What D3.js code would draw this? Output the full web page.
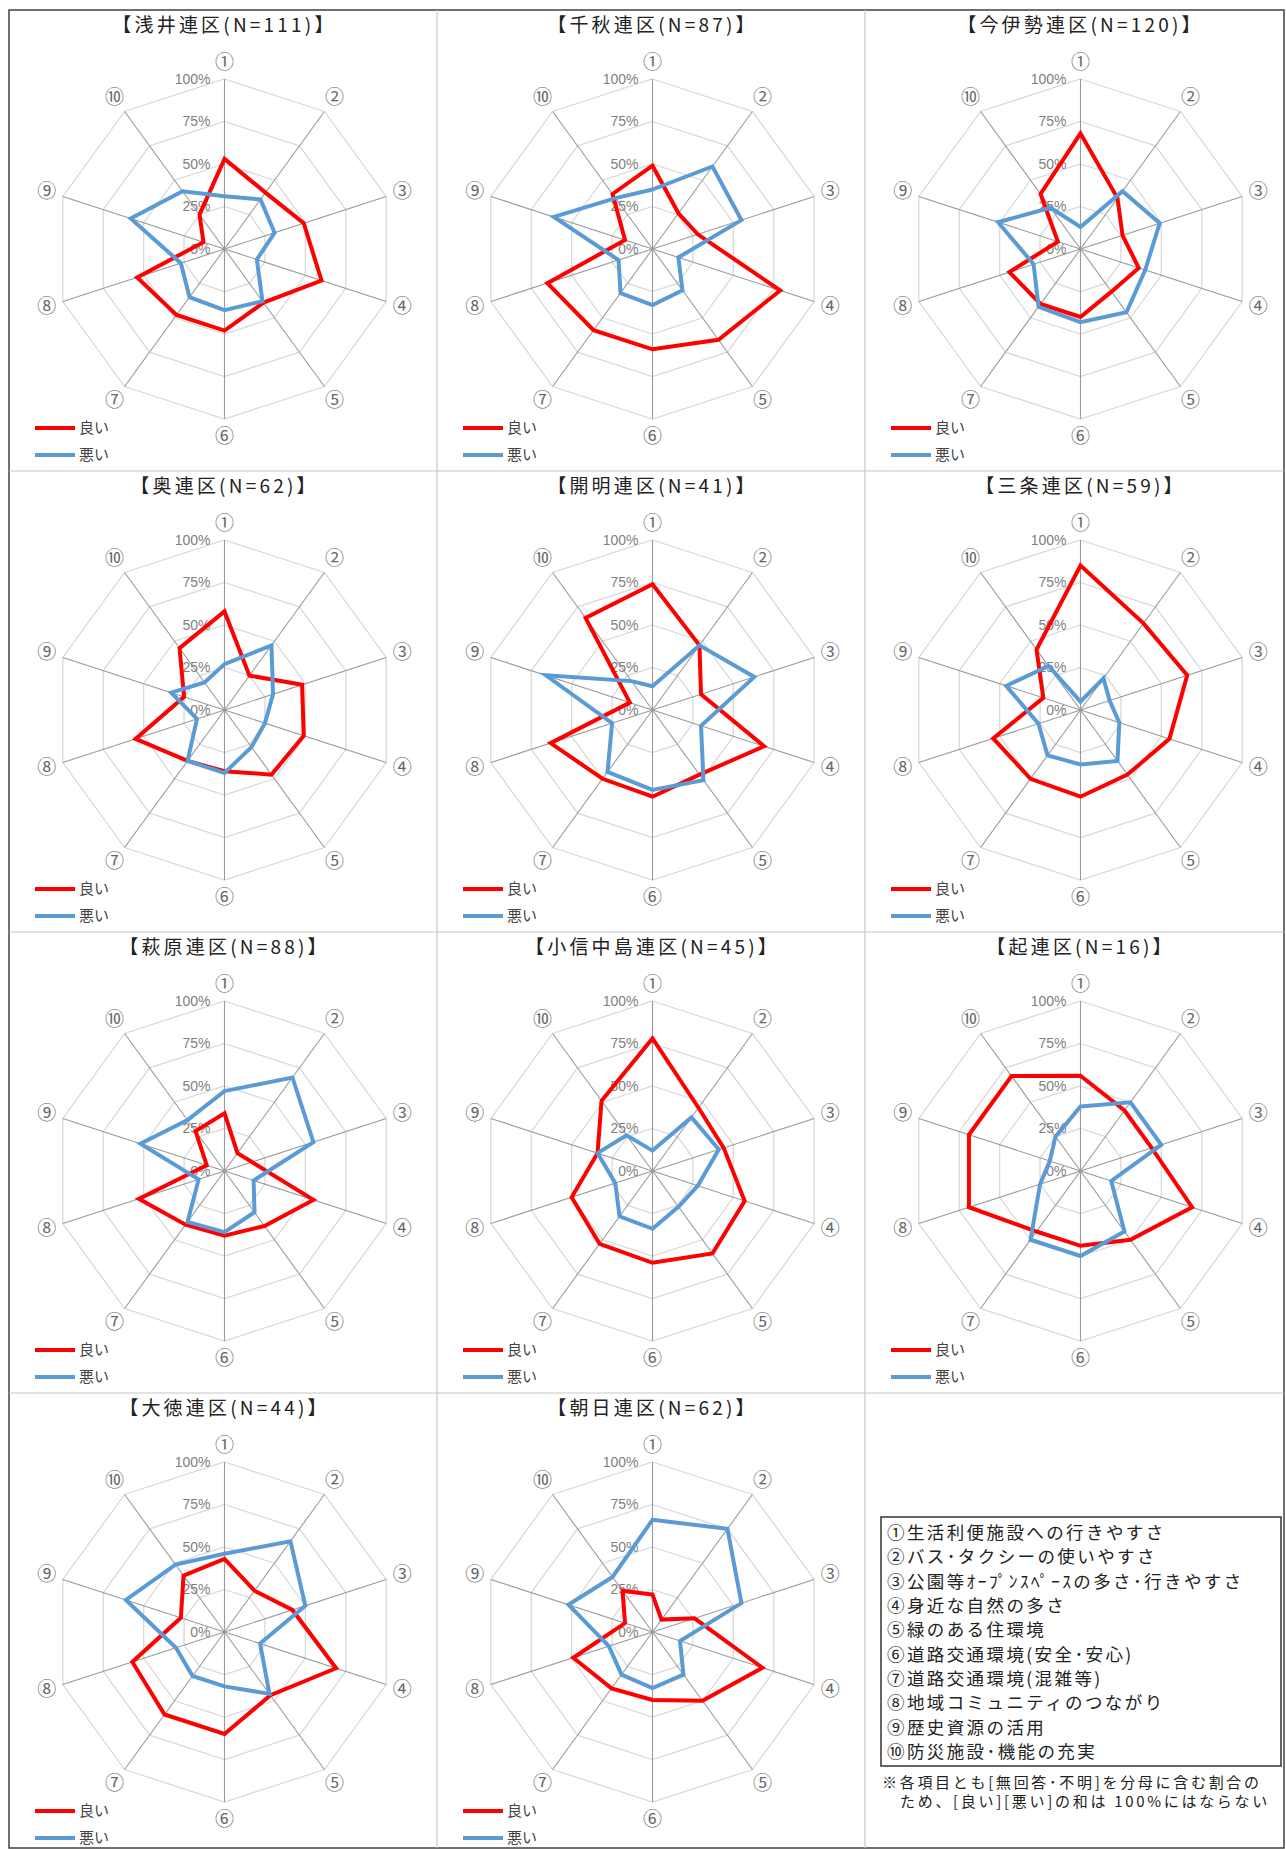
<!DOCTYPE html>
<html lang="ja">
<head>
<meta charset="UTF-8">
<title>連区別 良い・悪い レーダーチャート</title>
<style>
  body { margin: 0; background: #fff; }
  svg { display: block; font-family: "Noto Sans CJK JP", sans-serif; }
</style>
</head>
<body>
<script src="https://cdn.jsdelivr.net/npm/d3@7"></script>
<script>
// ---- data ----
var districts = ["浅井連区", "千秋連区", "今伊勢連区", "奥連区", "開明連区", "三条連区",
    "萩原連区", "小信中島連区", "起連区", "大徳連区", "朝日連区"];
var sampleN = [111, 87, 120, 62, 41, 59, 88, 45, 16, 44, 62];
var axisLabels = ["①", "②", "③", "④", "⑤", "⑥", "⑦", "⑧", "⑨", "⑩"];
var tickValues = [0, 0.25, 0.5, 0.75, 1];
var tickLabels = ["0%", "25%", "50%", "75%", "100%"];
var seriesNames = ["良い", "悪い"];

// 良い
var goodValues = [
    [0.53, 0.41, 0.49, 0.60, 0.39, 0.48, 0.48, 0.54, 0.13, 0.25],
    [0.49, 0.26, 0.28, 0.79, 0.66, 0.59, 0.59, 0.65, 0.17, 0.40],
    [0.68, 0.37, 0.26, 0.36, 0.31, 0.40, 0.40, 0.44, 0.14, 0.40],
    [0.58, 0.25, 0.48, 0.49, 0.47, 0.36, 0.37, 0.55, 0.25, 0.45],
    [0.74, 0.47, 0.30, 0.69, 0.47, 0.51, 0.50, 0.63, 0.14, 0.67],
    [0.85, 0.63, 0.66, 0.55, 0.47, 0.51, 0.50, 0.54, 0.23, 0.44],
    [0.34, 0.13, 0.17, 0.55, 0.40, 0.38, 0.39, 0.53, 0.11, 0.29],
    [0.78, 0.46, 0.44, 0.57, 0.60, 0.54, 0.53, 0.50, 0.34, 0.51],
    [0.56, 0.44, 0.44, 0.69, 0.50, 0.44, 0.44, 0.69, 0.69, 0.69],
    [0.43, 0.30, 0.42, 0.69, 0.46, 0.60, 0.60, 0.57, 0.27, 0.41],
    [0.22, 0.09, 0.26, 0.68, 0.50, 0.40, 0.41, 0.49, 0.17, 0.30]
];
// 悪い
var badValues = [
    [0.31, 0.36, 0.31, 0.20, 0.38, 0.36, 0.35, 0.27, 0.58, 0.42],
    [0.35, 0.60, 0.55, 0.16, 0.30, 0.33, 0.32, 0.21, 0.61, 0.37],
    [0.13, 0.42, 0.49, 0.40, 0.46, 0.43, 0.42, 0.29, 0.51, 0.30],
    [0.27, 0.47, 0.30, 0.25, 0.27, 0.37, 0.37, 0.17, 0.33, 0.20],
    [0.14, 0.47, 0.63, 0.30, 0.51, 0.47, 0.45, 0.25, 0.66, 0.21],
    [0.05, 0.23, 0.18, 0.24, 0.37, 0.32, 0.33, 0.26, 0.46, 0.32],
    [0.47, 0.68, 0.55, 0.18, 0.30, 0.36, 0.37, 0.16, 0.52, 0.37],
    [0.12, 0.39, 0.41, 0.28, 0.26, 0.34, 0.33, 0.23, 0.34, 0.26],
    [0.38, 0.50, 0.50, 0.19, 0.44, 0.50, 0.50, 0.25, 0.19, 0.25],
    [0.46, 0.66, 0.50, 0.22, 0.45, 0.32, 0.32, 0.30, 0.61, 0.49],
    [0.66, 0.75, 0.55, 0.17, 0.31, 0.33, 0.31, 0.27, 0.52, 0.40]
];

var itemNames = [
    "①生活利便施設への行きやすさ",
    "②バス･タクシーの使いやすさ",
    "③公園等ｵｰﾌﾟﾝｽﾍﾟｰｽの多さ･行きやすさ",
    "④身近な自然の多さ",
    "⑤緑のある住環境",
    "⑥道路交通環境(安全･安心)",
    "⑦道路交通環境(混雑等)",
    "⑧地域コミュニティのつながり",
    "⑨歴史資源の活用",
    "⑩防災施設･機能の充実"
];
var noteLines = [
    "※各項目とも[無回答･不明]を分母に含む割合の",
    "ため、[良い][悪い]の和は 100%にはならない"
];

// ---- layout ----
var width = 1286, height = 1849;
var frame = {left: 9, top: 10, right: 1284, bottom: 1848};
var cellW = 428, cellH = 461;
var cx = 215.5, cy = 239;
var colors = ["#ff0000", "#5b9bd5"];

var svg = d3.select("body").append("svg")
    .attr("width", width)
    .attr("height", height);

// outer frame and cell dividers
svg.append("rect")
    .attr("x", frame.left).attr("y", frame.top)
    .attr("width", frame.right - frame.left)
    .attr("height", frame.bottom - frame.top)
    .style("fill", "none").style("stroke", "#404040").style("stroke-width", 1.5);

[1, 2].forEach(function (c) {
    svg.append("line")
        .attr("x1", frame.left + c * cellW).attr("x2", frame.left + c * cellW)
        .attr("y1", frame.top).attr("y2", frame.bottom)
        .style("stroke", "#c8c8c8").style("stroke-width", 1.2);
});
[1, 2, 3].forEach(function (r) {
    svg.append("line")
        .attr("x1", frame.left).attr("x2", frame.right)
        .attr("y1", frame.top + r * cellH).attr("y2", frame.top + r * cellH)
        .style("stroke", "#c8c8c8").style("stroke-width", 1.2);
});

// scales
var radius = d3.scaleLinear().domain([0, 1]).range([0, 170]);
var angle = d3.scaleLinear().domain([0, axisLabels.length]).range([0, 2 * Math.PI]);

function px(i, v) { return radius(v) * Math.sin(angle(i)); }
function py(i, v) { return -radius(v) * Math.cos(angle(i)); }

var radial = d3.lineRadial()
    .angle(function (d, i) { return angle(i); })
    .radius(function (d) { return radius(d); })
    .curve(d3.curveLinearClosed);

districts.forEach(function (name, k) {
    var col = k % 3, row = Math.floor(k / 3);
    var cell = svg.append("g")
        .attr("transform", "translate(" + (frame.left + col * cellW) + "," + (frame.top + row * cellH) + ")");

    // title
    cell.append("text")
        .attr("x", cx).attr("y", 22)
        .attr("text-anchor", "middle")
        .style("font-size", "19px")
        .style("letter-spacing", "3.2px")
        .style("fill", "#222")
        .text("【" + name + "(N=" + sampleN[k] + ")】");

    var g = cell.append("g").attr("transform", "translate(" + cx + "," + cy + ")");

    // rings
    g.selectAll(".ring")
        .data(tickValues.filter(function (v) { return v > 0; }))
        .enter().append("path")
        .attr("d", function (v) { return radial(axisLabels.map(function () { return v; })); })
        .style("fill", "none").style("stroke", "#d9d9d9").style("stroke-width", 1.3);

    // spokes
    g.selectAll(".spoke")
        .data(axisLabels)
        .enter().append("line")
        .attr("x1", 0).attr("y1", 0)
        .attr("x2", function (d, i) { return px(i, 1); })
        .attr("y2", function (d, i) { return py(i, 1); })
        .style("stroke", "#9a9a9a").style("stroke-width", 1.1);

    // tick labels
    g.selectAll(".tick")
        .data(tickValues)
        .enter().append("text")
        .attr("x", -14)
        .attr("y", function (v) { return -radius(v); })
        .attr("dy", "0.35em")
        .attr("text-anchor", "end")
        .style("font-family", "'Liberation Sans Narrow', 'Liberation Sans', sans-serif")
        .style("font-size", "14px")
        .style("fill", "#7f7f7f")
        .text(function (v, i) { return tickLabels[i]; });

    // axis labels
    g.selectAll(".axis-label")
        .data(axisLabels)
        .enter().append("text")
        .attr("x", function (d, i) { return px(i, 1.1); })
        .attr("y", function (d, i) { return py(i, 1.1); })
        .attr("dy", "0.35em")
        .attr("text-anchor", "middle")
        .style("font-size", "19px")
        .style("fill", "#666")
        .text(function (d) { return d; });

    // series
    [goodValues[k], badValues[k]].forEach(function (vals, s) {
        g.append("path")
            .attr("d", radial(vals))
            .style("fill", "none")
            .style("stroke", colors[s])
            .style("stroke-width", 4)
            .style("stroke-linejoin", "miter");
    });

    // legend
    seriesNames.forEach(function (sn, s) {
        var ly = 418 + s * 27;
        cell.append("line")
            .attr("x1", 26).attr("x2", 66)
            .attr("y1", ly).attr("y2", ly)
            .style("stroke", colors[s]).style("stroke-width", 4);
        cell.append("text")
            .attr("x", 70).attr("y", ly).attr("dy", "0.35em")
            .style("font-size", "15px").style("fill", "#444")
            .text(sn);
    });
});

// item list box
var box = svg.append("g").attr("transform", "translate(881,1517)");
box.append("rect")
    .attr("width", 400).attr("height", 249)
    .style("fill", "#fff").style("stroke", "#333").style("stroke-width", 1.5);
box.selectAll(".item")
    .data(itemNames)
    .enter().append("text")
    .attr("x", 6)
    .attr("y", function (d, i) { return 16 + i * 24.3; })
    .attr("dy", "0.35em")
    .style("font-size", "17.5px")
    .style("letter-spacing", "2.4px")
    .style("fill", "#222")
    .text(function (d) { return d; });

svg.selectAll(".note")
    .data(noteLines)
    .enter().append("text")
    .attr("x", function (d, i) { return i === 0 ? 882 : 900; })
    .attr("y", function (d, i) { return 1783 + i * 19; })
    .attr("dy", "0.35em")
    .style("font-size", "15px")
    .style("letter-spacing", "2.7px")
    .style("fill", "#222")
    .text(function (d) { return d; });
</script>
</body>
</html>
